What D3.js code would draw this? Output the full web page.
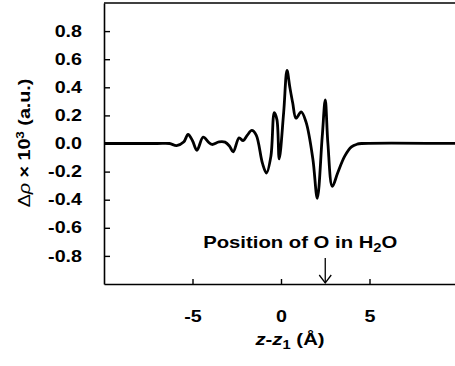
<!DOCTYPE html>
<html>
<head>
<meta charset="utf-8">
<script src="https://cdn.jsdelivr.net/npm/d3@7"></script>
<style>
  body { margin: 0; background: #fff; }
  text { font-family: "Liberation Sans", Arial, sans-serif; font-weight: bold; fill: #000; }
</style>
</head>
<body>
<script type="text/javascript">
var w = 455;
var h = 366;

// data: z - z1 (Angstrom) and delta rho x 10^3
var zVals = [-10, -7, -6.3, -5.9, -5.5, -5.25, -5.0, -4.75, -4.4, -4.1, -3.9, -3.5, -3.16, -2.9, -2.7,
  -2.37, -2.14, -1.9, -1.65, -1.4, -1.05, -0.82, -0.57, -0.38, -0.23, -0.1, 0.15, 0.34, 0.5, 0.66,
  0.85, 1.14, 1.42, 1.8, 2.05, 2.33, 2.5, 2.65, 2.9, 3.2, 3.6, 3.98, 4.3, 4.55, 10];
var rhoVals = [0, 0, 0, -0.015, 0.01, 0.064, 0.02, -0.048, 0.045, 0.01, -0.007, 0.012, 0.01, -0.02, -0.06,
  0.04, 0.02, 0.06, 0.093, 0.06, -0.14, -0.21, -0.09, 0.22, 0.17, -0.11, 0.22, 0.52, 0.4, 0.29,
  0.18, 0.225, 0.15, -0.11, -0.39, 0.05, 0.31, 0.0, -0.305, -0.21, -0.09, -0.024, -0.005, 0, 0];

var xTicks = [-5, 0, 5];
var yTicks = [-0.8, -0.6, -0.4, -0.2, 0, 0.2, 0.4, 0.6, 0.8];
var oxygenPos = 2.5;

var pLeft = 104, pTop = 3, pBottom = 284, pRight = 458;
var sx = 1.23; // the original lettering is a bit wider than Arial
var Xscale = d3.scaleLinear().domain([-10, 10]).range([pLeft, pRight]);
var Yscale = d3.scaleLinear().domain([-1, 1]).range([pBottom, pTop]);

const svg = d3.select("body").append("svg").attr("width", w).attr("height", h);

svg.append("clipPath").attr("id", "plotclip").append("rect")
  .attr("x", pLeft).attr("y", pTop).attr("width", pRight - pLeft).attr("height", pBottom - pTop);

//AXES
var yAxis = d3.axisLeft(Yscale).tickValues(yTicks).tickSizeInner(-6).tickSizeOuter(0)
  .tickPadding(22).tickFormat(function (d) { return d.toFixed(1); });
var gy = svg.append("g").attr("transform", "translate(" + pLeft + ",0)").call(yAxis);
gy.selectAll("text").style("font-size", "16px")
  .attr("x", 0).attr("transform", "translate(-22,0) scale(" + sx + ",1)");

var xAxis = d3.axisBottom(Xscale).tickValues(xTicks).tickSizeInner(-5).tickSizeOuter(0)
  .tickPadding(27).tickFormat(function (d) { return d; });
var gx = svg.append("g").attr("transform", "translate(0," + pBottom + ")").call(xAxis);
gx.selectAll("text").style("font-size", "16px")
  .attr("transform", "scale(" + sx + ",1)");

svg.selectAll(".domain").attr("stroke", "#000").attr("stroke-width", 1.6);
svg.selectAll(".tick line").attr("stroke", "#000").attr("stroke-width", 1.4);

// top border
svg.append("line").attr("x1", pLeft).attr("x2", pRight).attr("y1", pTop).attr("y2", pTop)
  .attr("stroke", "#000").attr("stroke-width", 1.6);

//CURVE
var pts = zVals.map(function (z, i) { return [z, rhoVals[i]]; });
var line = d3.line()
  .x(function (d) { return Xscale(d[0]); })
  .y(function (d) { return Yscale(d[1]); })
  .curve(d3.curveCatmullRom.alpha(0.5));
svg.append("path").datum(pts).attr("d", line).attr("clip-path", "url(#plotclip)")
  .attr("fill", "none").attr("stroke", "#000").attr("stroke-width", 2.8).attr("stroke-linejoin", "round");

//ANNOTATION
var ax = Xscale(oxygenPos);
var ann = svg.append("text").attr("transform", "translate(" + (ax - 25) + ",248) scale(" + sx + ",1)")
  .attr("text-anchor", "middle").style("font-size", "16.5px");
ann.append("tspan").text("Position of O in H");
ann.append("tspan").text("2").attr("dy", 4).style("font-size", "12px");
ann.append("tspan").text("O").attr("dy", -4);

svg.append("line").attr("x1", ax).attr("x2", ax).attr("y1", 258).attr("y2", 283)
  .attr("stroke", "#000").attr("stroke-width", 1.3);
svg.append("path").attr("d", "M" + (ax - 6) + ",275 L" + ax + ",283 L" + (ax + 6) + ",275")
  .attr("fill", "none").attr("stroke", "#000").attr("stroke-width", 1.3);

//AXIS TITLES
var xt = svg.append("text").attr("transform", "translate(" + (Xscale(0) + 9) + ",345) scale(" + sx + ",1)")
  .attr("text-anchor", "middle").style("font-size", "16.5px");
xt.append("tspan").text("z").style("font-style", "italic");
xt.append("tspan").text("-");
xt.append("tspan").text("z").style("font-style", "italic");
xt.append("tspan").text("1").attr("dy", 4).style("font-size", "12px");
xt.append("tspan").text(" (Å)").attr("dy", -4);

var yt = svg.append("text").attr("transform", "translate(30,143) rotate(-90) scale(" + sx + ",1)")
  .attr("text-anchor", "middle").style("font-size", "16px");
yt.append("tspan").text("Δ").style("font-weight", "normal");
yt.append("tspan").text("ρ").style("font-style", "italic").style("font-weight", "normal");
yt.append("tspan").text(" × 10");
yt.append("tspan").text("3").attr("dy", -6).style("font-size", "11px");
yt.append("tspan").text(" (a.u.)").attr("dy", 6);
</script>
</body>
</html>
